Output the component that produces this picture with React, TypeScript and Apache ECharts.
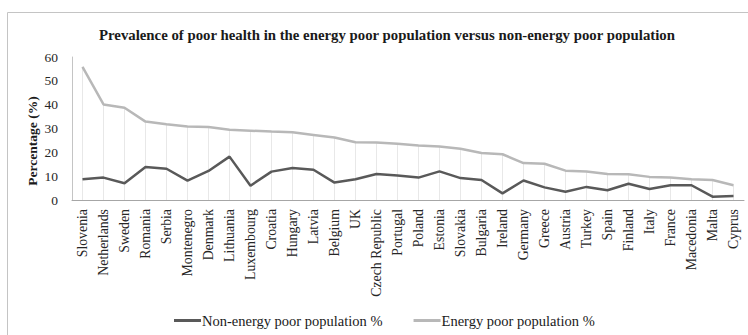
import React, { useEffect, useRef } from "react";
import * as echarts from "echarts";

const countries = [
  "Slovenia", "Netherlands", "Sweden", "Romania", "Serbia", "Montenegro", "Denmark", "Lithuania",
  "Luxembourg", "Croatia", "Hungary", "Latvia", "Belgium", "UK", "Czech Republic", "Portugal",
  "Poland", "Estonia", "Slovakia", "Bulgaria", "Ireland", "Germany", "Greece", "Austria",
  "Turkey", "Spain", "Finland", "Italy", "France", "Macedonia", "Malta", "Cyprus",
];

const nonEnergyPoor = [
  8.7, 9.4, 7.0, 13.8, 13.1, 8.1, 12.2, 18.2,
  6.0, 11.9, 13.4, 12.7, 7.3, 8.7, 10.9, 10.3,
  9.4, 12.0, 9.2, 8.4, 2.8, 8.2, 5.3, 3.5,
  5.5, 4.1, 6.8, 4.6, 6.2, 6.2, 1.4, 1.7,
];

const energyPoor = [
  55.9, 40.1, 38.7, 32.9, 31.8, 30.8, 30.6, 29.5,
  29.1, 28.7, 28.4, 27.3, 26.2, 24.2, 24.1, 23.6,
  22.9, 22.4, 21.5, 19.7, 19.2, 15.5, 15.2, 12.3,
  12.0, 10.9, 10.8, 9.7, 9.4, 8.7, 8.4, 6.2,
];

const yTicks = { min: 0, max: 60, interval: 10 };

const SERIF = "'Liberation Serif', 'DejaVu Serif', serif";

export default function App() {
  const ref = useRef<HTMLDivElement>(null);
  useEffect(() => {
    document.body.style.margin = "0";
    const chart = echarts.init(ref.current!, null, { renderer: "svg" });
    chart.setOption({
      animation: false,
      backgroundColor: "#ffffff",
      textStyle: { fontFamily: SERIF },
      title: {
        text: "Prevalence of poor health in the energy poor population versus non-energy poor population",
        left: 382,
        textAlign: "center",
        top: 22,
        textStyle: { fontFamily: SERIF, fontSize: 14.8, fontWeight: "bold", color: "#1a1a1a" },
      },
      graphic: [
        {
          type: "rect",
          shape: { x: 7.5, y: 12.5, width: 800, height: 400 },
          style: { fill: "none", stroke: "#c4c4c4", lineWidth: 1 },
          silent: true,
        },
        {
          type: "text",
          x: 32,
          y: 141,
          rotation: Math.PI / 2,
          style: {
            text: "Percentage (%)",
            align: "center",
            verticalAlign: "middle",
            fontFamily: SERIF,
            fontSize: 13.5,
            fontWeight: "bold",
            fill: "#1a1a1a",
          },
        },
      ],
      legend: {
        left: 174,
        top: 313,
        padding: 0,
        itemWidth: 27,
        itemHeight: 3,
        itemGap: 31,
        icon: "rect",
        data: ["Non-energy poor population %", "Energy poor population %"],
        textStyle: { fontFamily: SERIF, fontSize: 14.5, color: "#1a1a1a", padding: [0, 0, 0, -4] },
      },
      grid: { left: 72, right: 4, top: 57, bottom: 135 },
      xAxis: {
        type: "category",
        data: countries,
        boundaryGap: true,
        axisLine: { lineStyle: { color: "#a6a6a6", width: 1 } },
        axisTick: { show: false },
        splitLine: { show: false },
        axisLabel: {
          rotate: 90,
          interval: 0,
          margin: 9,
          fontFamily: SERIF,
          fontSize: 13.8,
          color: "#262626",
        },
      },
      yAxis: {
        type: "value",
        min: yTicks.min,
        max: yTicks.max,
        interval: yTicks.interval,
        axisLine: { show: true, lineStyle: { color: "#c4c4c4", width: 1 } },
        axisTick: { show: false },
        splitLine: { show: false },
        axisLabel: { margin: 14, fontFamily: SERIF, fontSize: 13.5, color: "#262626" },
      },
      series: [
        {
          name: "drop",
          type: "bar",
          data: energyPoor,
          barWidth: 1,
          silent: true,
          z: 1,
          itemStyle: { color: "#e8e8e8" },
        },
        {
          name: "Non-energy poor population %",
          type: "line",
          data: nonEnergyPoor,
          symbol: "none",
          z: 3,
          lineStyle: { color: "#595959", width: 2.5 },
          itemStyle: { color: "#595959" },
        },
        {
          name: "Energy poor population %",
          type: "line",
          data: energyPoor,
          symbol: "none",
          z: 2,
          lineStyle: { color: "#b8b8b8", width: 2.5 },
          itemStyle: { color: "#b8b8b8" },
        },
      ],
    });
    return () => chart.dispose();
  }, []);
  return <div ref={ref} style={{ width: 748, height: 335 }} />;
}
